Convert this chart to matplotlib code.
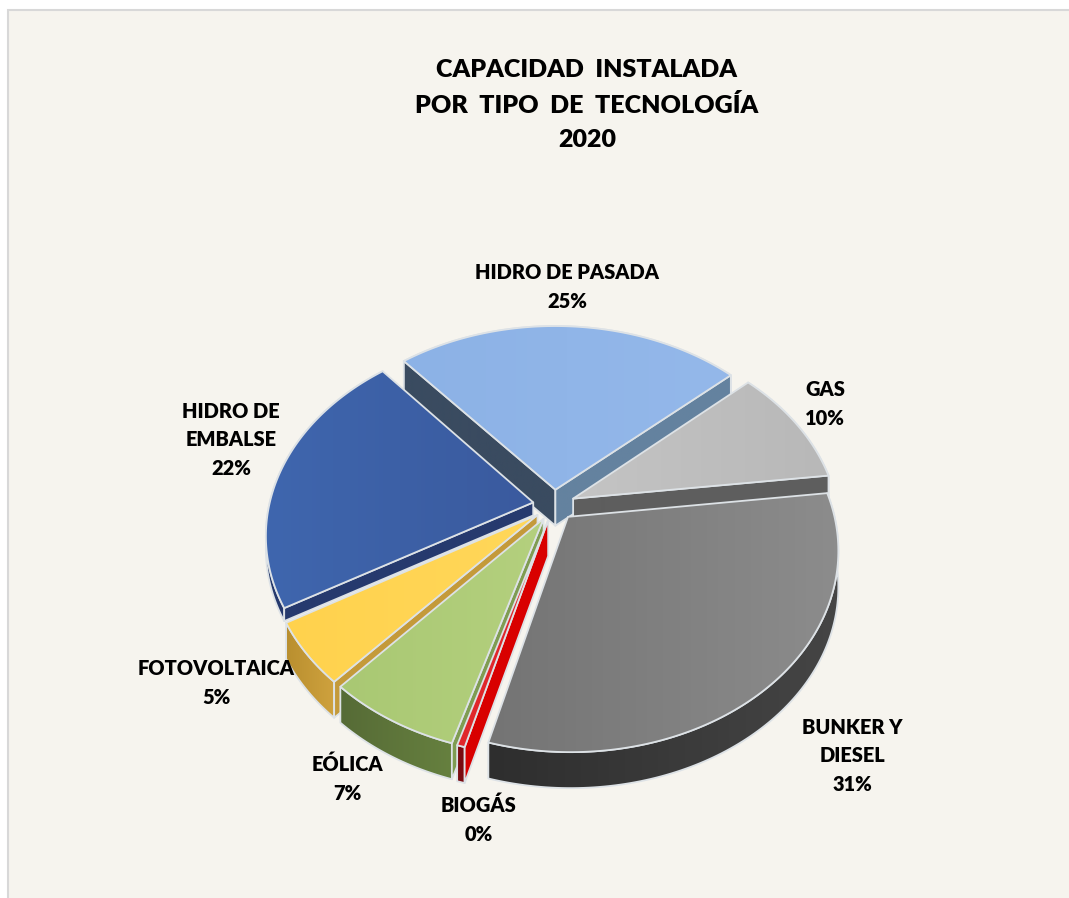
import numpy as np
import matplotlib
matplotlib.use("Agg")
import matplotlib.pyplot as plt
from matplotlib.colors import to_rgb
from matplotlib.patches import Polygon, Rectangle

# data, clockwise from the back left
names = ["HIDRO DE PASADA", "GAS", "BUNKER Y\nDIESEL", "BIOGÁS", "EÓLICA", "FOTOVOLTAICA", "HIDRO DE\nEMBALSE"]
values = [24.6, 9.7, 31.15, 0.4, 7, 5, 22.15]
top_cols = [("#8cb2e6", "#94b8ea"), ("#c4c4c4", "#b8b8b8"), ("#747474", "#8c8c8c"), ("#e0272b", "#e0272b"),
            ("#a9c873", "#b4d07e"), ("#ffd24d", "#ffd75a"), ("#3f66ae", "#3a5a9e")]
rim_cols = [("#5f7ca3", "#5f7ca3"), ("#6a6a6a", "#5a5a5a"), ("#2e2e2e", "#454545"), ("#7a0a10", "#7a0a10"),
            ("#566b36", "#66803f"), ("#b98f2f", "#cfa23e"), ("#25396c", "#2a4079")]
cut_cols = {0: ["#3a4b60", "#64829f"], 1: [None, "#5e5e5e"], 2: [None, None], 3: ["#d90000", None],
            4: ["#7f9c52", None], 5: ["#c49a3a", None], 6: ["#263a6e", None]}
draw_order = [0, 1, 6, 5, 4, 3, 2]
depths = [36, 36, 36, 36, 36, 36, 13]

start_angle = 130.5
explode = 0.08
center_x, center_y = 554, 505
rx, ry, persp = 264, 194, 0.158
edge = "#dde2e6"

fig = plt.figure(figsize=(10.69, 8.98), dpi=100, facecolor="white")
ax = fig.add_axes([0, 0, 1, 1])
ax.add_patch(Rectangle((8, 10), 1070, 900, fc="#f6f4ee", ec="#d8d8d8", lw=1.5, zorder=0))


def project(x, y):
    k = 1 / (1 + persp * y)
    return center_x + rx * x * k, center_y - ry * y * k


def grad_fill(pts, cols, z):
    # polygon filled with a left-right colour gradient
    pts = np.array(pts)
    c0, c1 = np.array(to_rgb(cols[0])), np.array(to_rgb(cols[1]))
    t = np.linspace(0, 1, 64)[None, :, None]
    img = c0[None, None, :] * (1 - t) + c1[None, None, :] * t
    x0, x1, y0, y1 = pts[:, 0].min(), pts[:, 0].max(), pts[:, 1].min(), pts[:, 1].max()
    im = ax.imshow(img, extent=[x0, x1, y1, y0], aspect="auto", zorder=z)
    poly = Polygon(pts, closed=True, fc="none", ec=edge, lw=1.3, zorder=z + 0.1, joinstyle="round")
    ax.add_patch(poly)
    im.set_clip_path(poly)


# angles follow from the values
total = sum(values)
angles = [start_angle]
for v in values:
    angles.append(angles[-1] - 360 * v / total)

z = 1
for i in draw_order:
    a0, a1 = np.radians(angles[i]), np.radians(angles[i + 1])
    mid = (a0 + a1) / 2
    ox, oy = explode * np.cos(mid), explode * np.sin(mid)
    t = np.linspace(a0, a1, max(int(abs(a1 - a0) * 60), 6))
    ax_x, ax_y = project(ox, oy)
    arc_x, arc_y = project(ox + np.cos(t), oy + np.sin(t))
    arc = np.column_stack([arc_x, arc_y])
    apex = np.array([ax_x, ax_y])
    down = np.array([0, depths[i]])

    # outer rim
    grad_fill(np.vstack([arc, (arc + down)[::-1]]), rim_cols[i], z)
    z += 1
    # cut faces
    for col, end in zip(cut_cols[i], [arc[0], arc[-1]]):
        if col is not None:
            grad_fill([apex, end, end + down, apex + down], (col, col), z)
            z += 1
    # top face
    grad_fill(np.vstack([apex, arc]), top_cols[i], z)
    z += 1

# labels
label_x = [567, 825, 852, 479, 347, 216, 231]
label_y = [287, 404, 756, 820, 779, 683, 440]
for name, v, lx, ly in zip(names, values, label_x, label_y):
    ax.text(lx, ly, f"{name}\n{round(v)}%", ha="center", va="center", family="Lato", weight="heavy",
            fontsize=14.4, color="black", linespacing=1.6, zorder=50)

ax.text(587, 105, "CAPACIDAD  INSTALADA\nPOR  TIPO  DE  TECNOLOGÍA\n2020", ha="center", va="center",
        family="Lato", weight="heavy", fontsize=18, color="black", linespacing=1.68, zorder=50)

ax.set_xlim(0, 1069)
ax.set_ylim(898, 0)
ax.axis("off")
fig.savefig("out.png", dpi=100, facecolor="white")
